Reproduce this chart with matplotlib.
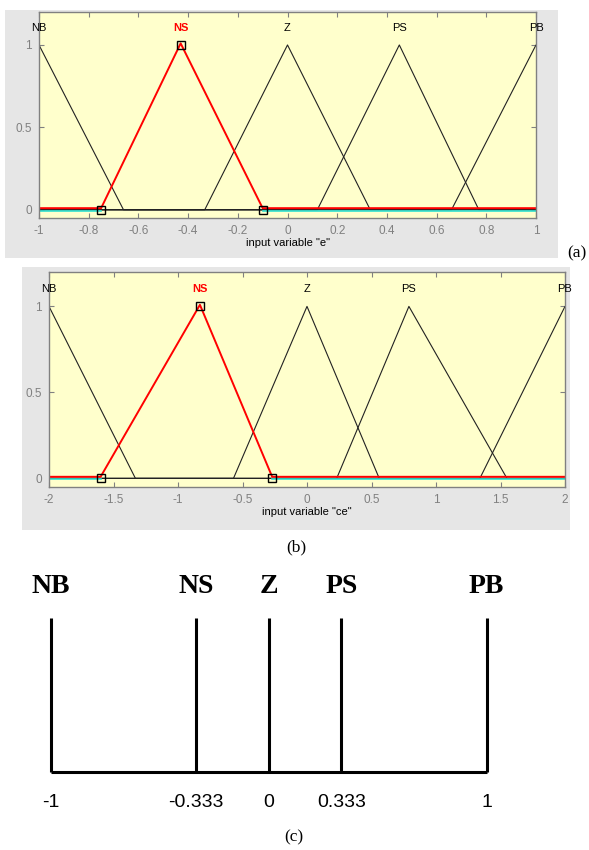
import matplotlib
matplotlib.use("Agg")
import matplotlib.pyplot as plt
from matplotlib.transforms import offset_copy

W, H = 589, 850

# membership function parameters (triangles: left foot, peak, right foot)
mf_names = ["NB", "NS", "Z", "PS", "PB"]
e_params = [[-1.33, -1.0, -0.66], [-0.75, -0.43, -0.10], [-0.333, 0.0, 0.333],
            [0.12, 0.45, 0.77], [0.66, 1.0, 1.33]]
ce_params = [[-2.67, -2.0, -1.33], [-1.6, -0.83, -0.27], [-0.57, 0.0, 0.56],
             [0.23, 0.79, 1.55], [1.34, 2.0, 2.67]]
e_ticks = [-1, -0.8, -0.6, -0.4, -0.2, 0, 0.2, 0.4, 0.6, 0.8, 1]
ce_ticks = [-2, -1.5, -1, -0.5, 0, 0.5, 1, 1.5, 2]
y_ticks = [0, 0.5, 1]
selected = 1  # NS is highlighted

# singleton sets for panel (c)
sing_pos = [-1, -0.333, 0, 0.333, 1]
sing_labels = ["-1", "-0.333", "0", "0.333", "1"]

GREY_BG = "#e6e6e6"
YELLOW = "#ffffcc"
FRAME = "#808080"


def px_axes(fig, x0, y0, x1, y1, **kw):
    return fig.add_axes([x0 / W, 1 - y1 / H, (x1 - x0) / W, (y1 - y0) / H], **kw)


def mf_panel(fig, bg, box, params, ticks, lim, xlabel):
    back = px_axes(fig, *bg)
    back.set_facecolor(GREY_BG)
    back.set_xticks([])
    back.set_yticks([])
    for s in back.spines.values():
        s.set_visible(False)

    ax = px_axes(fig, *box)
    ax.set_facecolor(YELLOW)
    ax.set_xlim(lim)
    ax.set_ylim(-0.05, 1.2)
    lo, hi = lim[0] - 1, lim[1] + 1

    for i, (a, b, c) in enumerate(params):
        if i == selected:
            continue
        ax.plot([lo, a, b, c, hi], [0, 0, 1, 0, 0], color="#222222", lw=0.8)

    a, b, c = params[selected]
    down = offset_copy(ax.transData, fig=fig, x=0, y=-0.8, units="dots")
    ax.plot([lo, a], [0, 0], color="#30e0d0", lw=1.2, transform=down)
    ax.plot([c, hi], [0, 0], color="#30e0d0", lw=1.2, transform=down)
    up = offset_copy(ax.transData, fig=fig, x=0, y=1.6, units="dots")
    ax.plot([lo, a, b, c, hi], [0, 0, 1, 0, 0], color="red", lw=1.4, transform=up)
    ax.plot([a, b, c], [0, 1, 0], ls="none", marker="s", ms=5.5,
            mfc="none", mec="black", mew=1)

    for i, (name, (a, b, c)) in enumerate(zip(mf_names, params)):
        sel = i == selected
        ax.text(b, 1.1, name, ha="center", va="center", fontsize=8,
                color="red" if sel else "black",
                fontweight="bold" if sel else "normal",
                family="Liberation Sans")

    ax.set_xticks(ticks)
    ax.set_xticklabels(["%g" % t for t in ticks])
    ax.set_yticks(y_ticks)
    ax.set_yticklabels(["0", "0.5", "1"])
    ax.tick_params(direction="in", top=True, right=True, length=3.5,
                   color=FRAME, labelcolor=FRAME, labelsize=8.5, pad=5)
    for lab in ax.get_xticklabels() + ax.get_yticklabels():
        lab.set_family("Liberation Sans")
    for s in ax.spines.values():
        s.set_color(FRAME)
        s.set_linewidth(1)
    ax.set_xlabel(xlabel, fontsize=8, family="Liberation Sans", labelpad=1)
    return ax


fig = plt.figure(figsize=(W / 100, H / 100), dpi=100)
fig.patch.set_facecolor("white")

mf_panel(fig, (5, 10, 558, 258), (39, 12, 536, 218), e_params, e_ticks,
         (-1, 1), 'input variable "e"')
mf_panel(fig, (22, 267, 570, 530), (49, 272, 565, 487), ce_params, ce_ticks,
         (-2, 2), 'input variable "ce"')

# panel (c): singleton output sets
axc = px_axes(fig, 50.7, 560, 486.7, 850)
axc.set_xlim(-1, 1)
axc.set_ylim(-0.508, 1.375)
axc.axis("off")
axc.plot([sing_pos[0], sing_pos[-1]], [0, 0], color="black", lw=2.2,
         solid_capstyle="butt", clip_on=False)
for x, name, lab in zip(sing_pos, mf_names, sing_labels):
    axc.plot([x, x], [0, 1], color="black", lw=2.2, clip_on=False,
             solid_capstyle="butt")
    axc.text(x, 1.2, name, ha="center", va="center", fontsize=20,
             fontweight="bold", family="Liberation Serif", clip_on=False)
    axc.text(x, -0.2, lab, ha="center", va="center", fontsize=14,
             family="Liberation Sans", clip_on=False)

caption = dict(fontsize=12.5, family="Liberation Serif", ha="center", va="center")
fig.text(577 / W, 1 - 253 / H, "(a)", **caption)
fig.text(296 / W, 1 - 547 / H, "(b)", **caption)
fig.text(294 / W, 1 - 837 / H, "(c)", **caption)

fig.savefig("out.png", dpi=100)
